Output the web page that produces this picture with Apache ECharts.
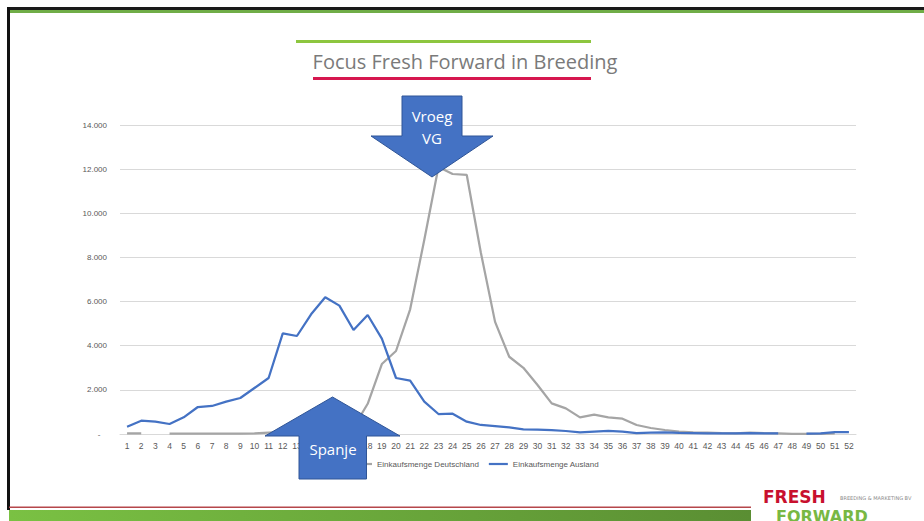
<!DOCTYPE html>
<html>
<head>
<meta charset="utf-8">
<script src="https://cdn.jsdelivr.net/npm/echarts@6/dist/echarts.min.js"></script>
<style>
html,body{margin:0;padding:0;background:#fff;}
#chart{width:924px;height:521px;}
</style>
</head>
<body>
<div id="chart"></div>
<script>
// ---- data ----
const weeks = ['1','2','3','4','5','6','7','8','9','10','11','12','13','14','15','16','17','18','19','20','21','22','23','24','25','26','27','28','29','30','31','32','33','34','35','36','37','38','39','40','41','42','43','44','45','46','47','48','49','50','51','52'];
const seriesNames = ['Einkaufsmenge Deutschland', 'Einkaufsmenge Ausland'];
const deutschland = [30,30,null,20,20,20,20,20,20,30,60,80,100,120,150,180,300,1370,3170,3760,5650,8800,12100,11780,11735,8200,5080,3500,3000,2220,1390,1163,755,875,755,695,408,272,181,105,75,60,40,30,60,40,30,10,10,10,30,null];
const ausland = [330,603,557,453,755,1223,1269,1465,1631,2084,2537,4562,4440,5422,6193,5815,4712,5392,4320,2537,2416,1465,906,920,558,408,362,302,211,196,181,136,70,105,136,105,40,60,70,50,40,30,30,30,40,30,30,null,20,30,80,80];
const yTicks = [0,2000,4000,6000,8000,10000,12000,14000];
const titleText = 'Focus Fresh Forward in Breeding';
const arrowLabels = ['Vroeg', 'VG', 'Spanje'];

function fmt(v){
  if (v === 0) return '-   ';
  return String(v).replace(/\B(?=(\d{3})+(?!\d))/g, '.');
}

const chart = echarts.init(document.getElementById('chart'), null, {renderer:'svg'});
const arrowFill = '#4472c4';
const arrowStroke = '#2f5597';
chart.setOption({
  backgroundColor:'#ffffff',
  animation:false,
  grid:{left:120, right:68, top:125, bottom:87, containLabel:false},
  xAxis:{
    type:'category', data:weeks, boundaryGap:true,
    axisTick:{show:false},
    axisLine:{lineStyle:{color:'#d9d9d9', width:1}},
    axisLabel:{color:'#595959', fontSize:8.5, margin:7, fontFamily:'Liberation Sans', interval:0}
  },
  yAxis:{
    type:'value', min:yTicks[0], max:yTicks[yTicks.length-1], interval:2000,
    axisLine:{show:false}, axisTick:{show:false},
    splitLine:{lineStyle:{color:'#d9d9d9', width:1}},
    axisLabel:{color:'#595959', fontSize:8, margin:13, fontFamily:'Liberation Sans', formatter:fmt}
  },
  legend:{
    data:seriesNames.map(n => ({name:n, icon:'rect'})), left:348, top:455, itemWidth:19, itemHeight:2.2, itemGap:10,
    textStyle:{color:'#595959', fontSize:8, fontFamily:'Liberation Sans'}
  },
  series:[
    {name:seriesNames[0], type:'line', data:deutschland, symbol:'none', connectNulls:false,
     lineStyle:{color:'#a5a5a5', width:2.25}, itemStyle:{color:'#a5a5a5'}, z:2},
    {name:seriesNames[1], type:'line', data:ausland, symbol:'none', connectNulls:false,
     lineStyle:{color:'#4472c4', width:2.25}, itemStyle:{color:'#4472c4'}, z:3}
  ],
  graphic:[
    // frame
    {type:'rect', shape:{x:7, y:7, width:917, height:3}, style:{fill:'#1a1a1a'}, z:50},
    {type:'rect', shape:{x:7, y:10, width:917, height:3}, style:{fill:'#70ad47'}, z:50},
    {type:'rect', shape:{x:7, y:7, width:3, height:503}, style:{fill:'#111111'}, z:50},
    // title decorations
    {type:'rect', shape:{x:296, y:40, width:295, height:3}, style:{fill:'#8dc63f'}, z:50},
    {type:'rect', shape:{x:313, y:77, width:278, height:3}, style:{fill:'#d6174f'}, z:50},
    {type:'text', x:465, y:61, style:{text:titleText, fill:'#7a7a7a', fontSize:20, fontFamily:'Open Sans', align:'center', verticalAlign:'middle'}, z:50},
    // bottom bar
    {type:'rect', shape:{x:9, y:506.5, width:742, height:1.5}, style:{fill:'#b5474b'}, z:50},
    {type:'rect', shape:{x:9, y:510, width:742, height:11},
     style:{fill:new echarts.graphic.LinearGradient(0,0,1,0,[{offset:0,color:'#7ac143'},{offset:1,color:'#5a8e33'}])}, z:50},
    // logo
    {type:'text', x:763, y:497, style:{text:'FRESH', fill:'#c8102e', fontSize:17, fontWeight:'bold', fontFamily:'DejaVu Sans', verticalAlign:'middle'}, z:50},
    {type:'text', x:840, y:498, style:{text:'BREEDING & MARKETING BV', fill:'#8a8a8a', fontSize:5, fontFamily:'DejaVu Sans', verticalAlign:'middle'}, z:50},
    {type:'text', x:776, y:516, style:{text:'FORWARD', fill:'#78b843', fontSize:16, fontWeight:'bold', fontFamily:'DejaVu Sans', verticalAlign:'middle'}, z:50},
    // Vroeg VG arrow (down)
    {type:'polygon', shape:{points:[[402,96],[462,96],[462,136],[493,136],[432,177],[371,136],[402,136]]},
     style:{fill:arrowFill, stroke:arrowStroke, lineWidth:1}, z:60},
    {type:'text', x:432, y:116, style:{text:arrowLabels[0], fill:'#ffffff', fontSize:15, fontFamily:'Open Sans', align:'center', verticalAlign:'middle'}, z:61},
    {type:'text', x:432, y:138, style:{text:arrowLabels[1], fill:'#ffffff', fontSize:15, fontFamily:'Open Sans', align:'center', verticalAlign:'middle'}, z:61},
    // Spanje arrow (up)
    {type:'polygon', shape:{points:[[332.5,397],[400,436],[366.5,436],[366.5,479],[299,479],[299,436],[265,436]]},
     style:{fill:arrowFill, stroke:arrowStroke, lineWidth:1}, z:60},
    {type:'text', x:333, y:449, style:{text:arrowLabels[2], fill:'#ffffff', fontSize:15, fontFamily:'Open Sans', align:'center', verticalAlign:'middle'}, z:61}
  ]
});
</script>
</body>
</html>
